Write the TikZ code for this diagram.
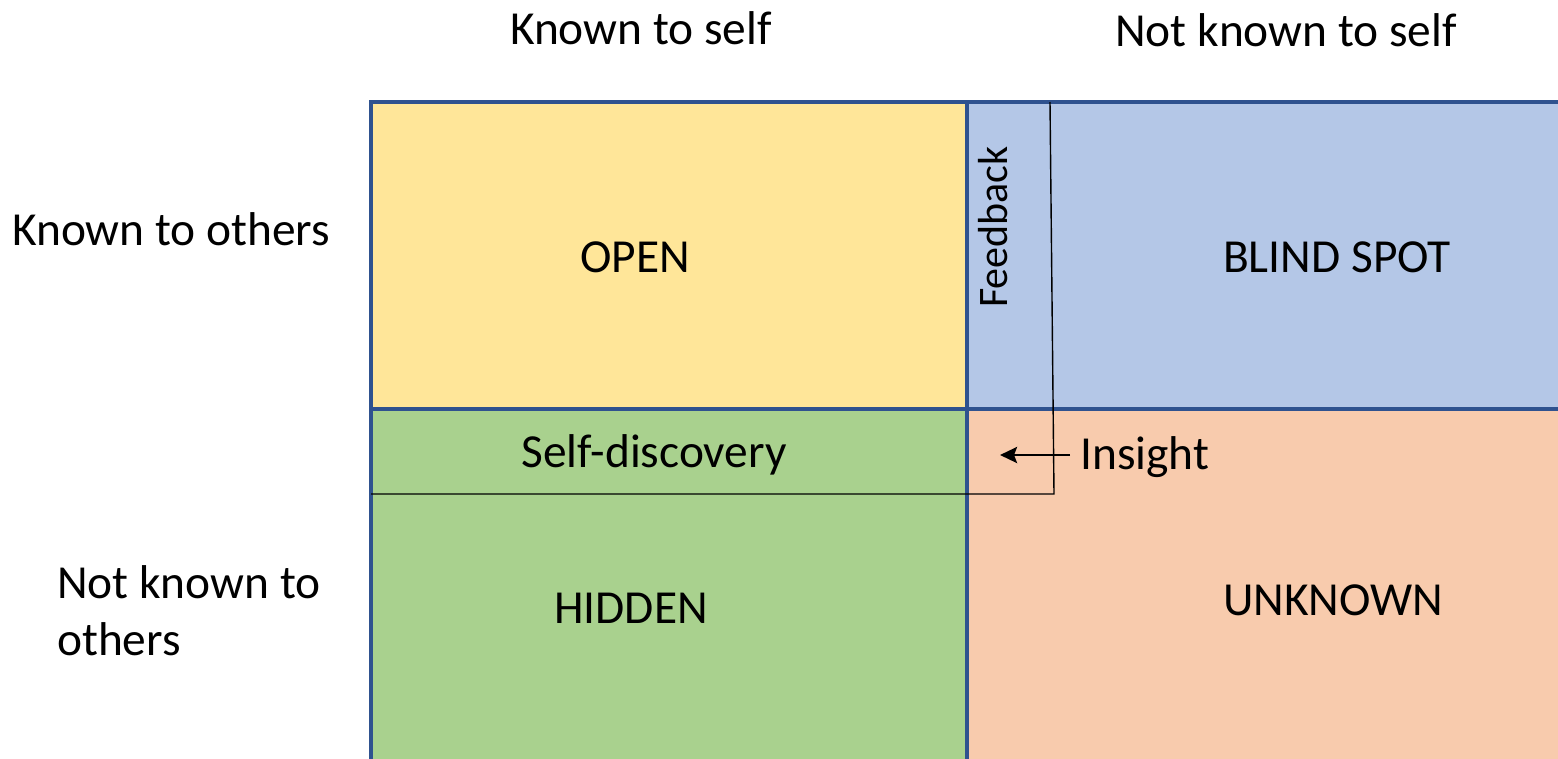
\documentclass[tikz,border=0pt]{standalone}
\usepackage{fontspec}
\setmainfont{Carlito}
\usetikzlibrary{arrows.meta}
\definecolor{openc}{HTML}{FFE699}
\definecolor{blindc}{HTML}{B4C7E7}
\definecolor{hiddenc}{HTML}{A9D18E}
\definecolor{unknownc}{HTML}{F8CBAD}
\definecolor{borderc}{HTML}{2F528F}
\tikzset{
  quad/.style={draw=borderc, line width=3.2pt},
  lbl/.style={inner sep=0pt, anchor=base, font=\fontsize{47.4}{57}\selectfont},
  lblw/.style={inner sep=0pt, anchor=base west, font=\fontsize{47.4}{57}\selectfont},
  thinline/.style={draw=black, line width=1.4pt},
  arrowline/.style={draw=black, line width=2.8pt, -{Stealth[length=17pt,width=16pt,inset=3pt]}},
}
\begin{document}
\begin{tikzpicture}[x=1pt,y=-1pt]
\useasboundingbox (0,0) rectangle (1558,758);
\fill[white] (0,0) rectangle (1558,758);
\begin{scope}
\clip (0,0) rectangle (1558,758);
\path[quad, fill=openc] (371,102) rectangle (967,409);
\path[quad, fill=blindc] (967,102) rectangle (1600,409);
\path[quad, fill=hiddenc] (371,409) rectangle (967,800);
\path[quad, fill=unknownc] (967,409) rectangle (1600,800);
\end{scope}
% feedback / self-discovery boundary
\coordinate (fbtop) at (1050,102);
\coordinate (fbcorner) at (1054,494);
\coordinate (sdleft) at (371,494);
\draw[thinline] (fbtop) -- (fbcorner) -- (sdleft);
% header labels
\node[lbl] (kself) at (641,44) {Known to self};
\node[lbl] (nkself) at (1286,46) {Not known to self};
\node[lblw] (kothers) at (12,245) {Known to others};
\node[lblw, align=left] (nkothers) at (57,655) {Not known to\\others};
% quadrant labels
\node[lbl] (open) at (635,272) {OPEN};
\node[lbl] (blind) at (1337,272) {BLIND SPOT};
\node[lbl] (hidden) at (631,623) {HIDDEN};
\node[lbl] (unknown) at (1333,615) {UNKNOWN};
\node[lbl] (selfdisc) at (654,467) {Self-discovery};
\node[lblw, rotate=90, font=\fontsize{42}{50}\selectfont] (feedback) at (1007,308) {Feedback};
\node[lblw] (insight) at (1080,469) {Insight};
\coordinate (insighttip) at (1000,455);
\draw[arrowline] ([xshift=-10pt]insight.west |- insighttip) -- (insighttip);
\end{tikzpicture}
\end{document}
